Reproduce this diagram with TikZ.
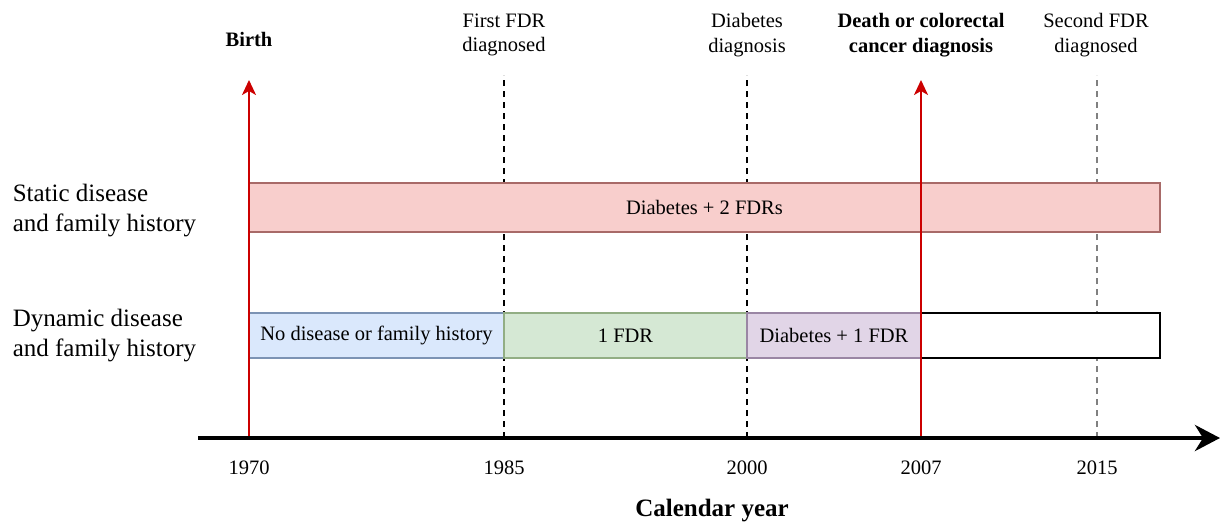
\documentclass[tikz,border=0pt]{standalone}
\usepackage{fontspec}
\setmainfont{Liberation Serif}
\usetikzlibrary{arrows.meta,positioning}

\definecolor{eventred}{HTML}{CC0000}
\definecolor{redfill}{HTML}{F8CECC}\definecolor{redline}{HTML}{A86A68}
\definecolor{bluefill}{HTML}{DAE8FC}\definecolor{blueline}{HTML}{7C93B4}
\definecolor{greenfill}{HTML}{D5E8D4}\definecolor{greenline}{HTML}{92AE84}
\definecolor{purplefill}{HTML}{E1D5E7}\definecolor{purpleline}{HTML}{9A86A4}

\tikzset{every picture/.style={x=1pt,y=-1pt,line width=1.5pt}}
\tikzset{txt/.style={font=\fontsize{20.5}{24.5}\selectfont, align=center, inner sep=0pt}}
\tikzset{rowlabel/.style={font=\fontsize{25}{30}\selectfont, align=left, inner sep=0pt, anchor=west}}
\tikzset{period/.style={draw, minimum height=45pt, inner sep=0pt, outer sep=0pt, anchor=north west, font=\fontsize{20.5}{24.5}\selectfont}}
\tikzset{yearline/.style={dash pattern=on 6pt off 5pt}}
\tikzset{event/.style={draw=eventred, line width=2pt, -{Stealth[length=15pt,width=14pt,inset=4pt]}}}
\tikzset{timeaxis/.style={line width=4.5pt, -{Stealth[length=25pt,width=26pt,inset=8pt]}}}

\begin{document}
\begin{tikzpicture}
    \useasboundingbox (0,0) rectangle (1225,523);
    % years on the axis
    \coordinate (ax0) at (198,438);
    \coordinate (ax1) at (1220,438);
    \foreach \yr/\xx in {1970/249, 1985/504, 2000/747, 2007/921, 2015/1097}{
        \coordinate (t\yr) at (\xx,438);
        \node[txt] (y\yr) at (\xx,467.5) {\yr};
    }
    \node[txt, font=\bfseries\fontsize{25}{30}\selectfont] (calyear) at (712,511) {Calendar year};

    % events above the timeline
    \node[txt, font=\bfseries\fontsize{20.5}{24.5}\selectfont] (birth) at (249,39) {Birth};
    \node[txt] (fdr1) at (504,35) {First FDR\\diagnosed};
    \node[txt] (diab) at (747,35) {Diabetes\\diagnosis};
    \node[txt, font=\bfseries\fontsize{20.5}{24.5}\selectfont] (death) at (921,35) {Death or colorectal\\cancer diagnosis};
    \node[txt] (fdr2) at (1096,35) {Second FDR\\diagnosed};

    \coordinate (fdr1top) at (504,75);
    \coordinate (diabtop) at (747,75);
    \coordinate (fdr2top) at (1097,75);
    \coordinate (birthtop) at (249,80);
    \coordinate (deathtop) at (921,80);

    \draw[yearline] (t1985) -- (fdr1top);
    \draw[yearline] (t2000) -- (diabtop);
    \draw[yearline, gray] (t2015) -- (fdr2top);

    % rows
    \node[rowlabel] (static) at (12,211) {Static disease\\and family history};
    \node[rowlabel] (dynamic) at (12,336) {Dynamic disease\\and family history};

    \node[period, fill=redfill, draw=redline, minimum width=911pt, minimum height=49pt] (stat) at (249,183) {Diabetes + 2 FDRs};

    \node[period, fill=bluefill, draw=blueline, minimum width=255pt] (nohist) at (249,313) {No disease or family history};
    \node[period, fill=greenfill, draw=greenline, minimum width=243pt, right=0pt of nohist] (onefdr) {1 FDR};
    \node[period, fill=purplefill, draw=purpleline, minimum width=174pt, right=0pt of onefdr] (diabfdr) {Diabetes + 1 FDR};
    \node[period, fill=white, draw=black, minimum width=239pt, right=0pt of diabfdr] (after) {};

    \draw[event] (t1970) -- (birthtop);
    \draw[event] (t2007) -- (deathtop);

    \draw[timeaxis] (ax0) -- (ax1);
\end{tikzpicture}
\end{document}
